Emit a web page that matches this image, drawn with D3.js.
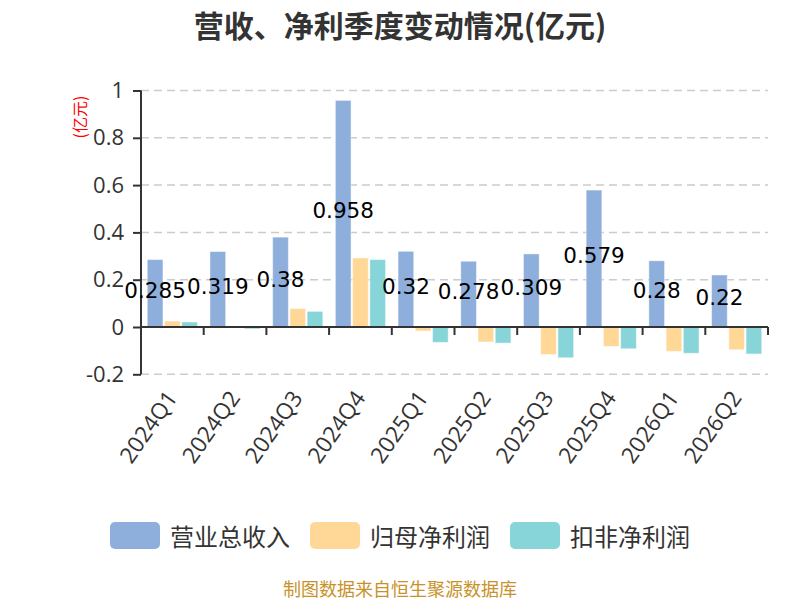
<!DOCTYPE html>
<html><head><meta charset="utf-8">
<script src="https://cdn.jsdelivr.net/npm/d3@7/dist/d3.min.js"></script>
<style>body{margin:0;background:#fff}svg{display:block}</style>
</head><body>
<svg id="c" width="800" height="600"></svg>
<script>
const categories = ["2024Q1","2024Q2","2024Q3","2024Q4","2025Q1","2025Q2","2025Q3","2025Q4","2026Q1","2026Q2"];
const revenue = [0.285,0.319,0.38,0.958,0.32,0.278,0.309,0.579,0.28,0.22];
const netProfit = [0.025,0.002,0.078,0.292,-0.017,-0.063,-0.116,-0.082,-0.103,-0.096];
const deductedProfit = [0.021,-0.008,0.066,0.285,-0.065,-0.068,-0.130,-0.092,-0.111,-0.114];
const seriesNames = ["营业总收入","归母净利润","扣非净利润"];
const colors = ["#8eaedb","#ffd898","#87d5d8"];
const yTicks = [-0.2,0,0.2,0.4,0.6,0.8,1];
const title = "营收、净利季度变动情况(亿元)";
const unitLabel = "(亿元)";
const footer = "制图数据来自恒生聚源数据库";

const series = [revenue, netProfit, deductedProfit];
const svg = d3.select("#c");
const L = 141, R = 768, T = 90.5, B = 374.3;
const numFont = "'DejaVu Sans', sans-serif";
const axFont = "'Open Sans', sans-serif";
const cjkFont = "'Noto Sans CJK SC', sans-serif";

const x = d3.scaleBand().domain(categories).range([L, R]).paddingInner(0.2).paddingOuter(0.1);
const xOuter = d3.scaleBand().domain(categories).range([L, R]);
const y = d3.scaleLinear().domain([-0.2, 1]).range([B, T]);
const bw = x.bandwidth();
const gap = 0.1;
const barW = bw / (3 + 2 * gap);

// title
svg.append("text").attr("x", 400).attr("y", 24).attr("text-anchor", "middle")
  .attr("dominant-baseline", "central").attr("font-family", cjkFont)
  .attr("font-weight", "bold").attr("font-size", 30).attr("fill", "#333").text(title);

// grid
svg.append("g").selectAll("line").data(yTicks.filter(d => d !== 0)).join("line")
  .attr("x1", L).attr("x2", R).attr("y1", d => y(d)).attr("y2", d => y(d))
  .attr("stroke", "#ccc").attr("stroke-width", 1.5).attr("stroke-dasharray", "8,5");

// bars
series.forEach((vals, si) => {
  svg.append("g").selectAll("rect").data(vals).join("rect")
    .attr("x", (d, i) => x(categories[i]) + si * barW * (1 + gap))
    .attr("width", barW)
    .attr("y", d => Math.min(y(d), y(0)))
    .attr("height", d => Math.abs(y(d) - y(0)))
    .attr("fill", colors[si])
    .attr("stroke", "rgba(255,255,255,0.45)").attr("stroke-width", 1);
});

// y axis
const yAxis = d3.axisLeft(y).tickValues(yTicks).tickSize(8).tickPadding(9)
  .tickFormat(d => String(+d.toFixed(1)));
const gy = svg.append("g").attr("transform", `translate(${L},0)`).call(yAxis);
gy.select(".domain").attr("stroke", "#333").attr("stroke-width", 2).attr("d", `M0,${B}V${T}`);
gy.selectAll(".tick line").attr("stroke", "#333").attr("stroke-width", 2);
gy.selectAll(".tick text").attr("font-family", axFont).attr("font-size", 22).attr("fill", "#333");

// x axis at zero
const xAxis = d3.axisBottom(xOuter).tickSize(0).tickFormat("");
const gx = svg.append("g").attr("transform", `translate(0,${y(0)})`).call(xAxis);
gx.select(".domain").attr("stroke", "#333").attr("stroke-width", 2).attr("d", `M${L},0H${R}`);
gx.selectAll(".tick").remove();
gx.selectAll("line.bt").data(categories).join("line").attr("class", "bt")
  .attr("x1", d => xOuter(d) + xOuter.bandwidth()).attr("x2", d => xOuter(d) + xOuter.bandwidth())
  .attr("y1", 0).attr("y2", 8).attr("stroke", "#333").attr("stroke-width", 2);

// x labels
svg.append("g").selectAll("text").data(categories).join("text")
  .attr("transform", d => `translate(${xOuter(d) + xOuter.bandwidth() / 2 - 1},393) rotate(-55)`)
  .attr("text-anchor", "end").attr("dominant-baseline", "central")
  .attr("font-family", axFont).attr("font-size", 22.5).attr("fill", "#333").text(d => d);

// unit label
svg.append("text").attr("transform", "translate(79,117) rotate(-90)")
  .attr("text-anchor", "middle").attr("dominant-baseline", "central")
  .attr("font-family", cjkFont).attr("font-size", 16).attr("fill", "#ff0000").text(unitLabel);

// data labels (revenue, inside middle)
svg.append("g").selectAll("text").data(revenue).join("text")
  .attr("x", (d, i) => x(categories[i]) + barW / 2)
  .attr("y", d => (y(d) + y(0)) / 2 - 3)
  .attr("text-anchor", "middle").attr("dominant-baseline", "central")
  .attr("font-family", numFont).attr("font-size", 21.5).attr("fill", "#000").text(d => d);

// legend
const lg = svg.append("g");
seriesNames.forEach((n, i) => {
  const lx = 110 + i * 200;
  lg.append("rect").attr("x", lx).attr("y", 522).attr("width", 50).attr("height", 27)
    .attr("rx", 5).attr("fill", colors[i]);
  lg.append("text").attr("x", lx + 60).attr("y", 535.5).attr("dominant-baseline", "central")
    .attr("font-family", cjkFont).attr("font-size", 24).attr("fill", "#333").text(n);
});

// footer
svg.append("text").attr("x", 400).attr("y", 588).attr("text-anchor", "middle")
  .attr("dominant-baseline", "central").attr("font-family", cjkFont)
  .attr("font-size", 18).attr("fill", "#c8922a").text(footer);
</script>
</body></html>
